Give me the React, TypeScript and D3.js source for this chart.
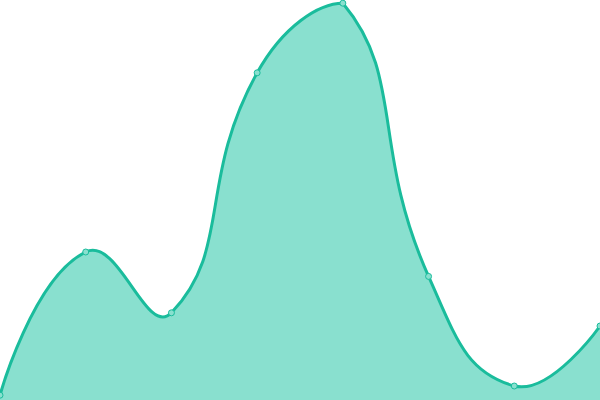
import { useEffect, useRef } from 'react';
import * as d3 from 'd3';

const categories = ['A', 'B', 'C', 'D', 'E', 'F', 'G', 'H'];
const values = [1.2, 37, 21.8, 81.8, 99.2, 30.9, 3.5, 18.5];

const WIDTH = 600;
const HEIGHT = 400;

// smooth bezier curve with control points clamped to the points' bounding box
class ConstrainedSmooth {
  _context: any;
  _smooth: number;
  _line = NaN;
  _xs: number[] = [];
  _ys: number[] = [];

  constructor(context: any, smooth: number) {
    this._context = context;
    this._smooth = smooth;
  }
  areaStart() { this._line = 0; }
  areaEnd() { this._line = NaN; }
  lineStart() { this._xs = []; this._ys = []; }
  point(x: number, y: number) { this._xs.push(+x); this._ys.push(+y); }
  lineEnd() {
    const ctx = this._context;
    const xs = this._xs, ys = this._ys, n = xs.length, s = this._smooth;
    if (n) {
      if (this._line) ctx.lineTo(xs[0], ys[0]);
      else ctx.moveTo(xs[0], ys[0]);
      const minX = d3.min(xs)!, maxX = d3.max(xs)!;
      const minY = d3.min(ys)!, maxY = d3.max(ys)!;
      const cx = (v: number) => Math.max(minX, Math.min(maxX, v));
      const cy = (v: number) => Math.max(minY, Math.min(maxY, v));
      let cp0x = xs[0], cp0y = ys[0];
      for (let i = 1; i < n; i++) {
        const px = xs[i], py = ys[i];
        let cp1x = px, cp1y = py, vx = 0, vy = 0, ratio = 0.5;
        if (i < n - 1) {
          vx = xs[i + 1] - xs[i - 1];
          vy = ys[i + 1] - ys[i - 1];
          const d0 = Math.hypot(px - xs[i - 1], py - ys[i - 1]);
          const d1 = Math.hypot(xs[i + 1] - px, ys[i + 1] - py);
          ratio = d0 + d1 ? d1 / (d0 + d1) : 0.5;
          cp1x = px - vx * s * (1 - ratio);
          cp1y = py - vy * s * (1 - ratio);
        }
        ctx.bezierCurveTo(cx(cp0x), cy(cp0y), cx(cp1x), cy(cp1y), px, py);
        cp0x = px + vx * s * ratio;
        cp0y = py + vy * s * ratio;
      }
    }
    if (this._line || (this._line !== 0 && n === 1)) ctx.closePath();
    this._line = 1 - this._line;
  }
}

const smoothCurve = (context: any) => new ConstrainedSmooth(context, 0.5);

export default function App() {
  const svgRef = useRef<SVGSVGElement>(null);

  useEffect(() => {
    if (!svgRef.current) return;
    const svg = d3.select(svgRef.current);
    svg.selectAll('*').remove();

    const x = d3.scalePoint<string>().domain(categories).range([0, WIDTH]);
    const y = d3.scaleLinear().domain([0, 100]).range([HEIGHT, 0]);

    const data = categories.map((c, i) => ({ c, v: values[i] }));

    const area = d3.area<{ c: string; v: number }>()
      .x(d => x(d.c)!)
      .y0(HEIGHT)
      .y1(d => y(d.v))
      .curve(smoothCurve as any);

    const line = d3.line<{ c: string; v: number }>()
      .x(d => x(d.c)!)
      .y(d => y(d.v))
      .curve(smoothCurve as any);

    svg.append('path')
      .attr('d', area(data) as string)
      .attr('fill', '#89e0cf');

    svg.append('path')
      .attr('d', line(data) as string)
      .attr('fill', 'none')
      .attr('stroke', '#1abc9c')
      .attr('stroke-width', 3);

    svg.selectAll('circle')
      .data(data)
      .join('circle')
      .attr('cx', d => x(d.c)!)
      .attr('cy', d => y(d.v))
      .attr('r', 3)
      .attr('fill', '#89e0cf')
      .attr('stroke', '#1abc9c')
      .attr('stroke-width', 1);
  }, []);

  return (
    <svg
      ref={svgRef}
      width={WIDTH}
      height={HEIGHT}
      style={{ position: 'fixed', top: 0, left: 0, display: 'block' }}
    />
  );
}
